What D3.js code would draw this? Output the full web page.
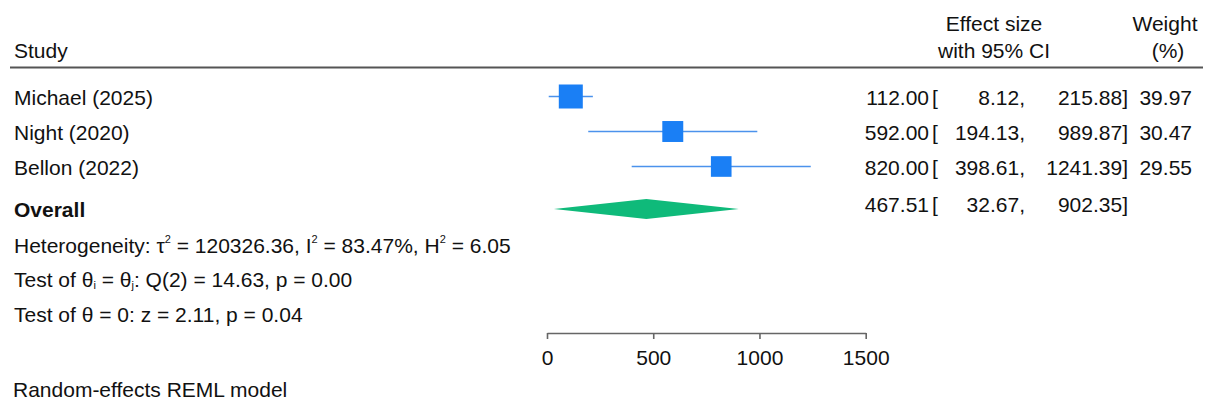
<!DOCTYPE html>
<html>
<head>
<meta charset="utf-8">
<script src="https://cdn.jsdelivr.net/npm/d3@7"></script>
<style>
  html, body { margin: 0; padding: 0; background: #fff; }
  svg { display: block; }
  text { font-family: "Liberation Sans", Arial, sans-serif; font-size: 21px; fill: #111; }
</style>
</head>
<body>
<svg id="chart" width="1209" height="405"></svg>
<script>
// ---- data ----
const studies = ["Michael (2025)", "Night (2020)", "Bellon (2022)"];
const effect = [112.00, 592.00, 820.00];
const ciLow = [8.12, 194.13, 398.61];
const ciHigh = [215.88, 989.87, 1241.39];
const weights = [39.97, 30.47, 29.55];
const overallLabel = "Overall";
const overall = [467.51, 32.67, 902.35]; // estimate, low, high
const xTicks = [0, 500, 1000, 1500];
const heterogeneity = { tau2: "120326.36", I2: "83.47%", H2: "6.05" };
const testHomog = { df: 2, Q: "14.63", p: "0.00" };
const testZero = { z: "2.11", p: "0.04" };
const footer = "Random-effects REML model";

// ---- layout ----
const svg = d3.select("#chart");
const x = d3.scaleLinear().domain([0, 1500]).range([547, 865.7]);
const y = d3.scalePoint().domain(studies).range([96.5, 166.5]);
const yOverall = 209;
const size = d3.scaleSqrt().domain([0, d3.max(weights)]).range([0, 24]);
const f2 = d3.format(".2f");

const blue = "#1a7ff5";
const ciBlue = "#4b92ec";
const green = "#0fba7a";

// header
svg.append("text").attr("x", 14).attr("y", 57.5).text("Study");
svg.append("text").attr("x", 994).attr("y", 31).attr("text-anchor", "middle").text("Effect size");
svg.append("text").attr("x", 994).attr("y", 58).attr("text-anchor", "middle").text("with 95% CI");
svg.append("text").attr("x", 1165).attr("y", 31).attr("text-anchor", "middle").text("Weight");
svg.append("text").attr("x", 1168).attr("y", 58).attr("text-anchor", "middle").text("(%)");
svg.append("line").attr("x1", 10).attr("x2", 1203).attr("y1", 67.5).attr("y2", 67.5)
  .attr("stroke", "#555").attr("stroke-width", 2);

// study rows
const rows = svg.append("g").selectAll("g").data(studies).join("g");
rows.append("line")
  .attr("x1", (d, i) => x(ciLow[i])).attr("x2", (d, i) => x(ciHigh[i]))
  .attr("y1", d => y(d)).attr("y2", d => y(d))
  .attr("stroke", ciBlue).attr("stroke-width", 1.6);
rows.append("rect")
  .attr("x", (d, i) => x(effect[i]) - size(weights[i]) / 2)
  .attr("y", (d, i) => y(d) - size(weights[i]) / 2)
  .attr("width", (d, i) => size(weights[i]))
  .attr("height", (d, i) => size(weights[i]))
  .attr("fill", blue);
rows.append("text").attr("x", 14).attr("y", d => y(d) + 8.5).text(d => d);
rows.append("text").attr("x", 929).attr("y", d => y(d) + 8.5).attr("text-anchor", "end")
  .text((d, i) => f2(effect[i]));
rows.append("text").attr("x", 932).attr("y", d => y(d) + 8.5).text("[");
rows.append("text").attr("x", 1025).attr("y", d => y(d) + 8.5).attr("text-anchor", "end")
  .text((d, i) => f2(ciLow[i]) + ",");
rows.append("text").attr("x", 1128).attr("y", d => y(d) + 8.5).attr("text-anchor", "end")
  .text((d, i) => f2(ciHigh[i]) + "]");
rows.append("text").attr("x", 1192).attr("y", d => y(d) + 8.5).attr("text-anchor", "end")
  .text((d, i) => f2(weights[i]));

// overall diamond
const dh = 10;
svg.append("path")
  .attr("d", `M${x(overall[1])},${yOverall} L${x(overall[0])},${yOverall - dh} L${x(overall[2])},${yOverall} L${x(overall[0])},${yOverall + dh} Z`)
  .attr("fill", green);
svg.append("text").attr("x", 14).attr("y", 216.5).attr("font-weight", "bold").text(overallLabel);
svg.append("text").attr("x", 929).attr("y", 211.5).attr("text-anchor", "end").text(f2(overall[0]));
svg.append("text").attr("x", 932).attr("y", 211.5).text("[");
svg.append("text").attr("x", 1025).attr("y", 211.5).attr("text-anchor", "end").text(f2(overall[1]) + ",");
svg.append("text").attr("x", 1128).attr("y", 211.5).attr("text-anchor", "end").text(f2(overall[2]) + "]");

// heterogeneity
const het = svg.append("text").attr("x", 14).attr("y", 252.5);
het.append("tspan").text("Heterogeneity: τ");
het.append("tspan").attr("font-size", 11).attr("dy", -10).text("2");
het.append("tspan").attr("dy", 10).text(" = " + heterogeneity.tau2 + ", I");
het.append("tspan").attr("font-size", 11).attr("dy", -10).text("2");
het.append("tspan").attr("dy", 10).text(" = " + heterogeneity.I2 + ", H");
het.append("tspan").attr("font-size", 11).attr("dy", -10).text("2");
het.append("tspan").attr("dy", 10).text(" = " + heterogeneity.H2);

const t1 = svg.append("text").attr("x", 14).attr("y", 287);
t1.append("tspan").text("Test of θ");
t1.append("tspan").attr("font-size", 11).attr("dy", 2).text("i");
t1.append("tspan").attr("dy", -2).text(" = θ");
t1.append("tspan").attr("font-size", 11).attr("dy", 2).text("j");
t1.append("tspan").attr("dy", -2).text(`: Q(${testHomog.df}) = ${testHomog.Q}, p = ${testHomog.p}`);

svg.append("text").attr("x", 14).attr("y", 321.5)
  .text(`Test of θ = 0: z = ${testZero.z}, p = ${testZero.p}`);

// axis
const axis = svg.append("g").attr("transform", "translate(0,333)")
  .call(d3.axisBottom(x).tickValues(xTicks).tickFormat(d3.format("d")).tickSize(6).tickSizeOuter(0));
axis.select(".domain").attr("stroke", "#666").attr("stroke-width", 1.6);
axis.selectAll(".tick line").attr("stroke", "#666").attr("stroke-width", 1.6);
axis.selectAll(".tick text").attr("font-size", 21).attr("font-family", "Liberation Sans, Arial, sans-serif")
  .attr("fill", "#111").attr("dy", 0).attr("y", 32);

// footer
svg.append("text").attr("x", 13).attr("y", 396.5).text(footer);
</script>
</body>
</html>
